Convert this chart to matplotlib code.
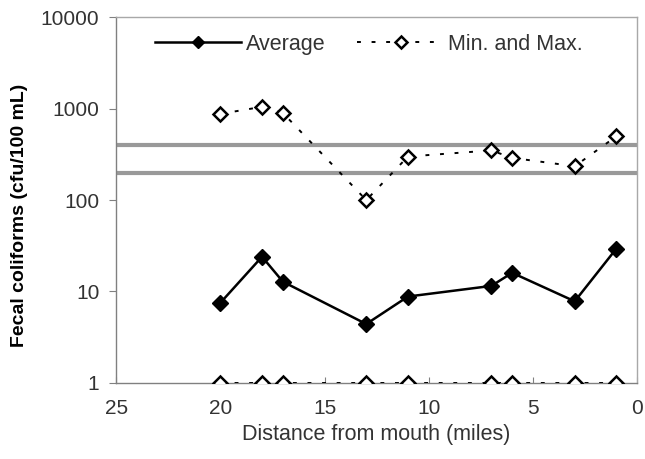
import matplotlib.pyplot as plt

plt.rcParams['font.family'] = ['Liberation Sans', 'DejaVu Sans']

# sampling stations, miles upstream from the mouth
distance = [20, 18, 17, 13, 11, 7, 6, 3, 1]
average = [7.5, 24, 12.8, 4.4, 8.8, 11.5, 16, 7.8, 29.5]
maximum = [880, 1050, 900, 100, 300, 350, 290, 235, 500]
minimum = [1, 1, 1, 1, 1, 1, 1, 1, 1]

# water quality criteria (cfu/100 mL)
criteria = [200, 400]

x_ticks = [25, 20, 15, 10, 5, 0]
y_ticks = [1, 10, 100, 1000, 10000]

text_col = '#333333'
frame_col = '#a8a8a8'
dots = (0, (2, 5.5))

fig, ax = plt.subplots(figsize=(6.45, 4.59), dpi=100)
fig.subplots_adjust(left=0.18, right=0.988, top=0.962, bottom=0.166)

for c in criteria:
  ax.axhline(c, color='#999999', lw=3, zorder=1)

ax.plot(distance, average, color='black', lw=1.8, marker='D', ms=8,
        mfc='black', mec='black', label='Average', zorder=3)
ax.plot(distance, maximum, color='black', lw=1.4, ls=dots, marker='D', ms=7.5,
        mfc='white', mec='black', mew=1.8, label='Min. and Max.', zorder=3)
ax.plot(distance, minimum, color='black', lw=1.4, ls=dots, marker='D', ms=7.5,
        mfc='white', mec='black', mew=1.8, zorder=3)

ax.set_yscale('log')
ax.set_ylim(1, 10000)
ax.set_xlim(25, 0)
ax.set_yticks(y_ticks)
ax.set_yticklabels([str(v) for v in y_ticks])
ax.minorticks_off()
ax.set_xticks(x_ticks)
ax.set_xticklabels([str(v) for v in x_ticks])

for s in ax.spines.values():
  s.set_color(frame_col)
  s.set_linewidth(1)
ax.spines['left'].set_color('#808080')
ax.spines['bottom'].set_color('#808080')

ax.tick_params(axis='y', direction='out', length=5, color='#808080',
               labelsize=15, labelcolor=text_col, pad=7)
ax.tick_params(axis='x', direction='in', length=4, color='#808080',
               labelsize=15, labelcolor=text_col, pad=12)

ax.set_xlabel('Distance from mouth (miles)', fontsize=15.5, color=text_col, labelpad=4)
ax.set_ylabel('Fecal coliforms (cfu/100 mL)', fontsize=14, fontweight='bold',
              color='black')
ax.yaxis.set_label_coords(-0.17, 0.457)

leg = ax.legend(loc='center', ncol=2, frameon=False, fontsize=15.5,
                handlelength=4.0, handletextpad=0.2, columnspacing=1.5,
                markerscale=0.8, bbox_to_anchor=(0.485, 0.926))
for t in leg.get_texts():
  t.set_color(text_col)

fig.savefig('out.png', dpi=100)
